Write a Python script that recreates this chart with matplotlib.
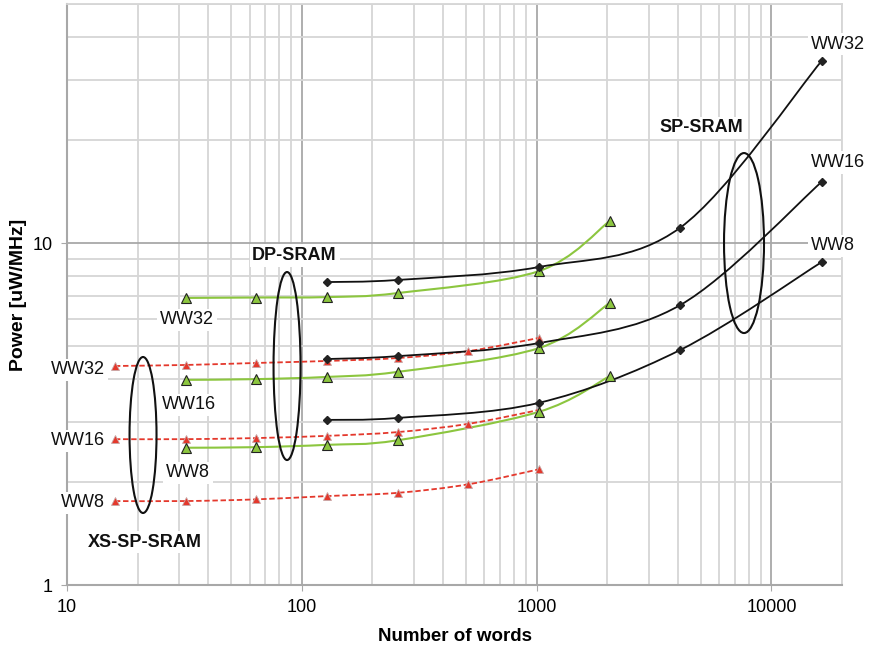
import numpy as np
import matplotlib.pyplot as plt
from matplotlib.path import Path
from matplotlib.patches import PathPatch, Ellipse

plt.rcParams['font.family'] = ['Liberation Sans', 'DejaVu Sans']

# SP-SRAM (black diamonds)
sp_words = [128, 256, 1024, 4096, 16384]
sp_ww32 = [7.69, 7.80, 8.51, 11.1, 34.1]
sp_ww16 = [4.58, 4.67, 5.10, 6.59, 15.1]
sp_ww8 = [3.04, 3.08, 3.41, 4.87, 8.80]

# DP-SRAM (green triangles)
dp_words = [32, 64, 128, 256, 1024, 2048]
dp_ww32 = [6.91, 6.93, 6.95, 7.14, 8.28, 11.6]
dp_ww16 = [3.98, 4.00, 4.06, 4.20, 4.93, 6.68]
dp_ww8 = [2.52, 2.53, 2.57, 2.65, 3.21, 4.08]

# XS-SP-SRAM (red triangles, dashed)
xs_words = [16, 32, 64, 128, 256, 512, 1024]
xs_ww32 = [4.37, 4.40, 4.46, 4.52, 4.61, 4.83, 5.28]
xs_ww16 = [2.67, 2.67, 2.69, 2.73, 2.80, 2.96, 3.25]
xs_ww8 = [1.76, 1.76, 1.78, 1.82, 1.86, 1.97, 2.18]


def smooth_path(xs, ys):
    # excel-like smoothed line: cubic bezier segments built in log space
    lx = np.log10(xs)
    ly = np.log10(ys)
    P = np.column_stack([lx, ly])
    n = len(P)
    verts = [P[0]]
    codes = [Path.MOVETO]
    for i in range(n - 1):
        p0 = P[max(i - 1, 0)]
        p1 = P[i]
        p2 = P[i + 1]
        p3 = P[min(i + 2, n - 1)]
        c1 = p1 + (p2 - p0) / 6
        c2 = p2 - (p3 - p1) / 6
        verts += [c1, c2, p2]
        codes += [Path.CURVE4] * 3
    verts = 10 ** np.array(verts)
    return Path(verts, codes)


fig = plt.figure(figsize=(8.69, 6.49), dpi=100)
ax = fig.add_axes([0.0771, 0.0986, 0.8919, 0.8952])
ax.set_xscale('log')
ax.set_yscale('log')
ax.set_xlim(10, 20000)
ax.set_ylim(1, 50)

ax.grid(True, which='minor', color='#d6d6d6', linewidth=1.3, zorder=0)
ax.grid(True, which='major', color='#a8a8a8', linewidth=1.3, zorder=0)
ax.set_axisbelow(True)
for s in ['top', 'right']:
    ax.spines[s].set_color('#d6d6d6')
    ax.spines[s].set_linewidth(1.3)
for s in ['left', 'bottom']:
    ax.spines[s].set_color('#a8a8a8')
    ax.spines[s].set_linewidth(1.5)

red = '#e4382c'
green = '#8cc63f'

for ys in [xs_ww32, xs_ww16, xs_ww8]:
    ax.add_patch(PathPatch(smooth_path(xs_words, ys), fill=False, edgecolor=red,
                           linestyle=(0, (3, 1.5)), linewidth=1.3, zorder=3))
    ax.plot(xs_words, ys, linestyle='none', marker='^', markersize=6,
            markerfacecolor=red, markeredgecolor='#c8a8a8', markeredgewidth=0.6, zorder=4)

for ys in [dp_ww32, dp_ww16, dp_ww8]:
    ax.add_patch(PathPatch(smooth_path(dp_words, ys), fill=False, edgecolor=green,
                           linewidth=1.5, zorder=3))
    ax.plot(dp_words, ys, linestyle='none', marker='^', markersize=7,
            markerfacecolor=green, markeredgecolor='#222222', markeredgewidth=0.8, zorder=4)

for ys in [sp_ww32, sp_ww16, sp_ww8]:
    ax.add_patch(PathPatch(smooth_path(sp_words, ys), fill=False, edgecolor='#111111',
                           linewidth=1.3, zorder=3))
    ax.plot(sp_words, ys, linestyle='none', marker='D', markersize=4,
            markerfacecolor='#222222', markeredgecolor='#222222', zorder=4)

# group ellipses (axes fraction)
for cx, cy, w, h in [(0.0981, 0.2582, 0.0348, 0.2685),
                     (0.2839, 0.3769, 0.0348, 0.3236),
                     (0.8735, 0.5886, 0.0516, 0.3098)]:
    ax.add_patch(Ellipse((cx, cy), w, h, transform=ax.transAxes, fill=False,
                         edgecolor='#111111', linewidth=1.5, zorder=5))

box = dict(facecolor='white', edgecolor='none', pad=2)
labels = [
    ('WW32', 0.960, 0.9310, 'left', 'normal'),
    ('WW16', 0.960, 0.7270, 'left', 'normal'),
    ('WW8', 0.960, 0.5840, 'left', 'normal'),
    ('SP-SRAM', 0.764, 0.7870, 'left', 'bold'),
    ('DP-SRAM', 0.239, 0.5670, 'left', 'bold'),
    ('WW32', 0.120, 0.4566, 'left', 'normal'),
    ('WW16', 0.123, 0.3103, 'left', 'normal'),
    ('WW8', 0.128, 0.1932, 'left', 'normal'),
    ('WW32', 0.0490, 0.3705, 'right', 'normal'),
    ('WW16', 0.0490, 0.2483, 'right', 'normal'),
    ('WW8', 0.0490, 0.1416, 'right', 'normal'),
    ('XS-SP-SRAM', 0.027, 0.0737, 'left', 'bold'),
]
for txt, x, y, ha, fw in labels:
    ax.text(x, y, txt, transform=ax.transAxes, ha=ha, va='center', fontsize=13,
            fontweight=fw, color='#111111', bbox=box, zorder=6, clip_on=False)

ax.set_xticks([10, 100, 1000, 10000])
ax.set_xticklabels(['10', '100', '1000', '10000'])
ax.set_yticks([1, 10])
ax.set_yticklabels(['1', '10'])
ax.tick_params(which='major', length=4, color='#a8a8a8', labelsize=13, pad=6)
ax.tick_params(which='minor', length=0)

ax.set_xlabel('Number of words', fontsize=13.5, fontweight='bold', labelpad=9)
ax.set_ylabel('Power [uW/MHz]', fontsize=14, fontweight='bold', labelpad=4)

fig.savefig('out.png', dpi=100)
